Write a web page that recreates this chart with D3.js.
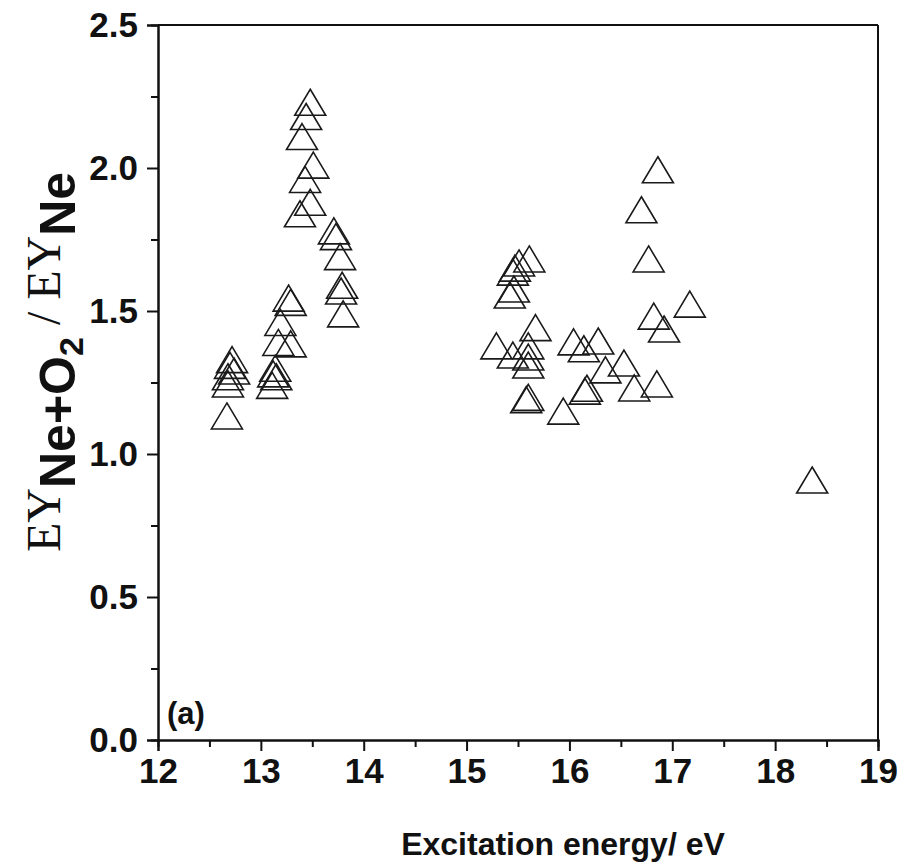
<!DOCTYPE html>
<html>
<head>
<meta charset="utf-8">
<script src="https://cdn.jsdelivr.net/npm/d3@7"></script>
<style>
  html, body { margin: 0; padding: 0; background: #fff; }
  svg text { fill: #111; }
</style>
</head>
<body>
<svg id="chart" width="904" height="864"></svg>
<script>
// Excitation energy (eV) of each measured point
const energy = [
  13.48, 13.44, 13.40, 13.51, 13.43, 13.48, 13.38, 13.71, 13.73, 13.77,
  13.79, 13.78, 13.80,
  13.27, 13.29, 13.19, 13.29, 13.17, 13.14, 13.12, 13.15, 13.11,
  12.72, 12.70, 12.74, 12.68, 12.68, 12.67,
  16.86, 16.70, 16.77, 17.17, 16.82, 16.92, 16.85, 16.63, 16.53, 16.35,
  16.28, 16.04, 16.14, 16.15, 16.17, 15.94, 15.60, 15.58, 15.67, 15.60,
  15.60, 15.60, 15.29, 15.45, 15.61, 15.51, 15.47, 15.45, 15.46, 15.42,
  18.36
];
// Ratio EY(Ne+O2) / EY(Ne) for each point
const ratio = [
  2.23, 2.18, 2.11, 2.01, 1.96, 1.88, 1.84, 1.78, 1.76, 1.69,
  1.59, 1.57, 1.49,
  1.545, 1.53, 1.46, 1.385, 1.39, 1.30, 1.28, 1.27, 1.24,
  1.33, 1.31, 1.29, 1.27, 1.245, 1.133,
  1.994, 1.854, 1.682, 1.524, 1.482, 1.437, 1.245, 1.231, 1.318, 1.294,
  1.395, 1.392, 1.368, 1.22, 1.23, 1.15, 1.198, 1.19, 1.442, 1.378,
  1.339, 1.311, 1.378, 1.346, 1.682, 1.668, 1.65, 1.636, 1.577, 1.556,
  0.909
];
const xTicks = [12, 13, 14, 15, 16, 17, 18, 19];
const yTicks = [0.0, 0.5, 1.0, 1.5, 2.0, 2.5];

const svg = d3.select("#chart");
const plotLeft = 158, plotRight = 878, plotTop = 25, plotBottom = 740;

const x = d3.scaleLinear().domain([12, 19]).range([plotLeft, plotRight]);
const y = d3.scaleLinear().domain([0, 2.5]).range([plotBottom, plotTop]);

const axisColor = "#111";
const tickFont = "'Liberation Sans', Arial, sans-serif";

// frame: top and right edges
svg.append("line").attr("x1", plotLeft).attr("x2", plotRight).attr("y1", plotTop).attr("y2", plotTop)
  .attr("stroke", axisColor).attr("stroke-width", 2);
svg.append("line").attr("x1", plotRight).attr("x2", plotRight).attr("y1", plotTop).attr("y2", plotBottom)
  .attr("stroke", axisColor).attr("stroke-width", 2);

// bottom axis with minor ticks
const xMinor = d3.range(12.5, 19, 1);
const gx = svg.append("g").attr("transform", `translate(0,${plotBottom})`);
gx.call(d3.axisBottom(x).tickValues(xMinor).tickSize(7).tickFormat(""));
gx.append("g").call(d3.axisBottom(x).tickValues(xTicks).tickSize(11).tickPadding(7).tickFormat(d3.format("d")));
gx.selectAll("path.domain").attr("stroke", axisColor).attr("stroke-width", 2);
gx.selectAll(".tick line").attr("stroke", axisColor).attr("stroke-width", 2);
gx.selectAll(".tick text").attr("font-family", tickFont).attr("font-weight", "bold")
  .attr("font-size", 35).attr("fill", "#111");

// left axis with minor ticks
const yMinor = d3.range(0.25, 2.5, 0.5);
const gy = svg.append("g").attr("transform", `translate(${plotLeft},0)`);
gy.call(d3.axisLeft(y).tickValues(yMinor).tickSize(7).tickFormat(""));
gy.append("g").call(d3.axisLeft(y).tickValues(yTicks).tickSize(11).tickPadding(9).tickFormat(d3.format(".1f")));
gy.selectAll("path.domain").attr("stroke", axisColor).attr("stroke-width", 2);
gy.selectAll(".tick line").attr("stroke", axisColor).attr("stroke-width", 2);
gy.selectAll(".tick text").attr("font-family", tickFont).attr("font-weight", "bold")
  .attr("font-size", 35).attr("fill", "#111");

// open triangle markers
const tw = 31, th = 26;
const tri = `M0,${-th / 2}L${tw / 2},${th / 2}L${-tw / 2},${th / 2}Z`;
svg.append("g").selectAll("path")
  .data(d3.range(energy.length))
  .join("path")
  .attr("d", tri)
  .attr("transform", i => `translate(${x(energy[i])},${y(ratio[i])})`)
  .attr("fill", "none")
  .attr("stroke", "#1a1a1a")
  .attr("stroke-width", 1.6)
  .attr("stroke-linejoin", "miter");

// panel tag
svg.append("text").attr("x", 167).attr("y", 724)
  .attr("font-family", tickFont).attr("font-weight", "bold").attr("font-size", 31)
  .text("(a)");

// x axis title
svg.append("text").attr("x", 563).attr("y", 855).attr("text-anchor", "middle")
  .attr("font-family", tickFont).attr("font-weight", "bold").attr("font-size", 32)
  .text("Excitation energy/ eV");

// y axis title: EY_{Ne+O2} / EY_{Ne}
const serif = "'Liberation Serif', 'Times New Roman', serif";
const yl = svg.append("text")
  .attr("transform", "translate(60,552) rotate(-90)")
  .attr("text-anchor", "start");
yl.append("tspan").attr("font-family", serif).attr("font-size", 48).text("EY");
yl.append("tspan").attr("font-family", tickFont).attr("font-weight", "bold").attr("font-size", 50)
  .attr("dy", 15).text("Ne+O");
yl.append("tspan").attr("font-family", tickFont).attr("font-weight", "bold").attr("font-size", 34)
  .attr("dy", 8).text("2");
yl.append("tspan").attr("font-family", serif).attr("font-size", 48)
  .attr("dy", -23).text("\u00a0/\u00a0EY");
yl.append("tspan").attr("font-family", tickFont).attr("font-weight", "bold").attr("font-size", 50)
  .attr("dy", 15).text("Ne");
</script>
</body>
</html>
